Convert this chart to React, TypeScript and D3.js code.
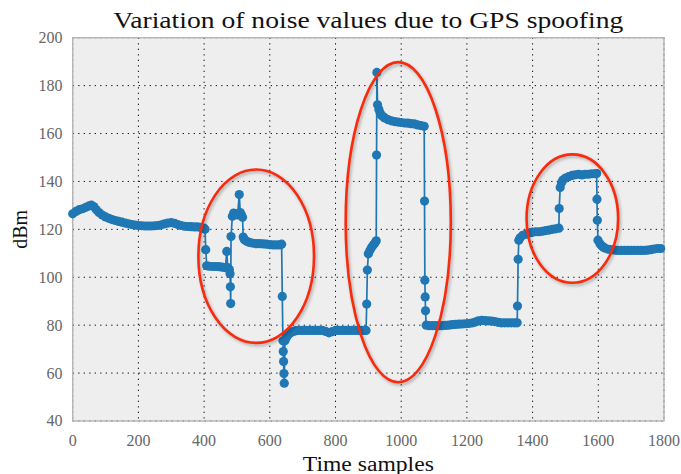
import React from "react";
import * as d3 from "d3";

const sampleIdx = [
  0, 10, 20, 30, 40, 50, 57, 64, 72, 80, 90, 100, 110, 120, 130, 140, 150, 160, 170, 180, 190, 200,
  210, 220, 230, 240, 250, 260, 270, 280, 290, 300, 310, 320, 330, 340, 350, 360, 370, 380, 390, 400,
  403, 405, 408, 415, 425, 435, 445, 455, 465, 469, 472, 477, 479, 480, 481, 482, 486, 490, 496, 502,
  507, 510, 514, 517, 519, 522, 527, 533, 540, 550, 560, 570, 580, 590, 600, 610, 620, 630, 636,
  638, 640, 641, 642, 643, 644, 646, 650, 655, 660, 666, 672, 680, 690, 700, 710, 720, 730, 740, 750,
  760, 770, 780, 790, 800, 810, 820, 830, 840, 850, 860, 870, 880, 890, 893,
  895, 897, 900, 905, 910, 915, 920, 924, 925, 926, 928, 932, 936, 940, 945, 950, 960, 970, 980, 990,
  1000, 1010, 1020, 1030, 1040, 1050, 1060, 1070, 1071, 1072, 1073, 1074,
  1076, 1085, 1095, 1105, 1115, 1125, 1135, 1145, 1155, 1165, 1175, 1185, 1195, 1205, 1215, 1225,
  1235, 1245, 1255, 1265, 1275, 1285, 1295, 1305, 1315, 1325, 1335, 1345, 1353,
  1354, 1356, 1358, 1362, 1370, 1380, 1390, 1400, 1410, 1420, 1430, 1440, 1450, 1460, 1470, 1480,
  1481, 1484, 1488, 1492, 1500, 1510, 1520, 1530, 1540, 1550, 1560, 1570, 1580, 1590, 1595,
  1596, 1597, 1599, 1605, 1610, 1615, 1620, 1630, 1640, 1650, 1660, 1670, 1680, 1690, 1700, 1710,
  1720, 1730, 1740, 1750, 1760, 1770, 1780, 1790,
];

const noiseDbm = [
  126.5, 127.5, 128.2, 128.6, 129.2, 129.8, 130.1, 129.5, 128.2, 127.0, 126.0, 125.2, 124.6, 124.1,
  123.7, 123.3, 123.0, 122.6, 122.3, 122.0, 121.8, 121.6, 121.5, 121.4, 121.4, 121.4, 121.5, 121.6,
  121.9, 122.3, 122.6, 122.8, 122.5, 122.0, 121.6, 121.3, 121.2, 121.1, 121.0, 121.0, 120.8, 120.5,
  120.0, 111.5, 104.8, 104.6, 104.5, 104.5, 104.4, 104.2, 104.0, 110.8, 104.0, 103.2, 101.5, 96.0,
  89.0, 117.0, 125.5, 126.8, 126.5, 126.0, 134.5, 127.0, 126.0, 125.0, 116.8, 115.8, 115.2, 114.8,
  114.5, 114.2, 114.0, 114.0, 113.9, 113.8, 113.6, 113.5, 113.5, 113.5, 113.8,
  92.0, 73.5, 69.0, 64.8, 59.8, 55.8, 73.5, 74.8, 75.8, 76.5, 77.0, 77.4, 77.7, 77.8, 77.8, 77.8,
  77.8, 77.8, 77.8, 77.8, 77.8, 77.4, 76.8, 77.3, 77.8, 77.8, 77.8, 77.8, 77.8, 77.8, 77.8, 77.8,
  77.8, 77.8, 77.8,
  88.8, 103.0, 109.8, 111.3, 112.5, 113.5, 114.3, 115.2, 151.0, 185.5, 172.0, 170.0, 168.6, 167.6,
  167.0, 166.5, 165.8, 165.3, 165.0, 164.8, 164.6, 164.4, 164.3, 164.1, 164.0, 163.6, 163.3, 163.0,
  131.8, 98.8, 91.8, 86.0,
  80.0, 79.8, 79.8, 79.8, 79.8, 79.8, 79.9, 80.0, 80.2, 80.3, 80.4, 80.5, 80.6, 80.7, 80.9, 81.3,
  81.8, 82.0, 81.9, 81.8, 81.7, 81.5, 81.2, 81.0, 81.0, 81.0, 81.0, 81.0, 81.0,
  88.0, 107.5, 115.5, 116.5, 117.5, 118.0, 118.5, 118.8, 119.0, 119.0, 119.2, 119.5, 119.7, 120.0,
  120.2, 120.5,
  128.7, 137.5, 139.5, 140.6, 141.4, 142.0, 142.5, 142.8, 143.0, 142.7, 143.0, 143.0, 143.2, 143.2,
  143.3,
  132.6, 123.8, 115.5, 114.0, 113.2, 112.6, 112.2, 111.7, 111.5, 111.3, 111.2, 111.2, 111.2, 111.2,
  111.2, 111.2, 111.2, 111.2, 111.2, 111.3, 111.5, 111.8, 112.0, 112.0,
];

const xTicks = [0, 200, 400, 600, 800, 1000, 1200, 1400, 1600, 1800];
const yTicks = [40, 60, 80, 100, 120, 140, 160, 180, 200];

// highlighted regions (center and radii in data units)
const regionCx = [558.6, 991, 1521];
const regionCy = [108.8, 123, 124.5];
const regionRx = [176, 160, 139.4];
const regionRy = [36.2, 66.8, 26.8];

const titleText = "Variation of noise values due to GPS spoofing";
const xLabel = "Time samples";
const yLabel = "dBm";

export default function App() {
  const W = 681;
  const H = 474;
  const left = 72.7;
  const right = 664;
  const top = 37.7;
  const bottom = 421;

  const x = d3.scaleLinear().domain([0, 1800]).range([left, right]);
  const y = d3.scaleLinear().domain([40, 200]).range([bottom, top]);

  const pts = sampleIdx.map((s, i) => [s, noiseDbm[i]] as [number, number]);
  const line = d3
    .line<[number, number]>()
    .x((d) => x(d[0]))
    .y((d) => y(d[1]));

  const serif = "'Liberation Serif', 'DejaVu Serif', serif";
  const blue = "#1f77b4";

  return (
    <svg
      width={W}
      height={H}
      style={{ position: "absolute", left: 0, top: 0, background: "#fff" }}
    >
      <defs>
        <filter id="shadow" x="-20%" y="-20%" width="140%" height="140%">
          <feGaussianBlur stdDeviation="1.5" />
        </filter>
      </defs>
      <rect x={left} y={top} width={right - left} height={bottom - top} fill="#eeeeee" />
      {/* grid */}
      {xTicks.map((t) => (
        <line
          key={"gx" + t}
          x1={x(t)}
          x2={x(t)}
          y1={top}
          y2={bottom}
          stroke="#111"
          strokeWidth={1}
          strokeDasharray="1.3,4.2"
        />
      ))}
      {yTicks.map((t) => (
        <line
          key={"gy" + t}
          x1={left}
          x2={right}
          y1={y(t)}
          y2={y(t)}
          stroke="#111"
          strokeWidth={1}
          strokeDasharray="1.3,4.2"
        />
      ))}
      <rect
        x={left}
        y={top}
        width={right - left}
        height={bottom - top}
        fill="none"
        stroke="#b5b5b5"
        strokeWidth={1.4}
      />
      {/* data */}
      <path d={line(pts) || ""} fill="none" stroke={blue} strokeWidth={1.7} />
      {pts.map((p, i) => (
        <circle key={"m" + i} cx={x(p[0])} cy={y(p[1])} r={4.6} fill={blue} />
      ))}
      {/* highlight ellipses */}
      {regionCx.map((c, i) => {
        const cx = x(c);
        const cy = y(regionCy[i]);
        const rx = x(c + regionRx[i]) - cx;
        const ry = cy - y(regionCy[i] + regionRy[i]);
        return (
          <g key={"e" + i}>
            <ellipse
              cx={cx + 1.5}
              cy={cy + 2}
              rx={rx}
              ry={ry}
              fill="none"
              stroke="#000"
              strokeOpacity={0.25}
              strokeWidth={3}
              filter="url(#shadow)"
            />
            <ellipse cx={cx} cy={cy} rx={rx} ry={ry} fill="none" stroke="#fb2a0c" strokeWidth={2.6} />
          </g>
        );
      })}
      {/* tick labels */}
      {yTicks.map((t) => (
        <text
          key={"ty" + t}
          x={62.5}
          y={y(t)}
          dy="0.34em"
          textAnchor="end"
          fontFamily={serif}
          fontSize={16}
          fill="#666"
        >
          {t}
        </text>
      ))}
      {xTicks.map((t) => (
        <text
          key={"tx" + t}
          x={x(t)}
          y={445.5}
          textAnchor="middle"
          fontFamily={serif}
          fontSize={16}
          fill="#666"
        >
          {t}
        </text>
      ))}
      <text
        x={(left + right) / 2}
        y={28.3}
        textAnchor="middle"
        fontFamily={serif}
        fontSize={24}
        fill="#111"
        textLength={510}
        lengthAdjust="spacingAndGlyphs"
      >
        {titleText}
      </text>
      <text
        x={(left + right) / 2}
        y={470.5}
        textAnchor="middle"
        fontFamily={serif}
        fontSize={20}
        fill="#111"
        textLength={131}
        lengthAdjust="spacingAndGlyphs"
      >
        {xLabel}
      </text>
      <text
        transform={`translate(26.5, ${(top + bottom) / 2}) rotate(-90)`}
        textAnchor="middle"
        fontFamily={serif}
        fontSize={20}
        fill="#111"
      >
        {yLabel}
      </text>
    </svg>
  );
}
